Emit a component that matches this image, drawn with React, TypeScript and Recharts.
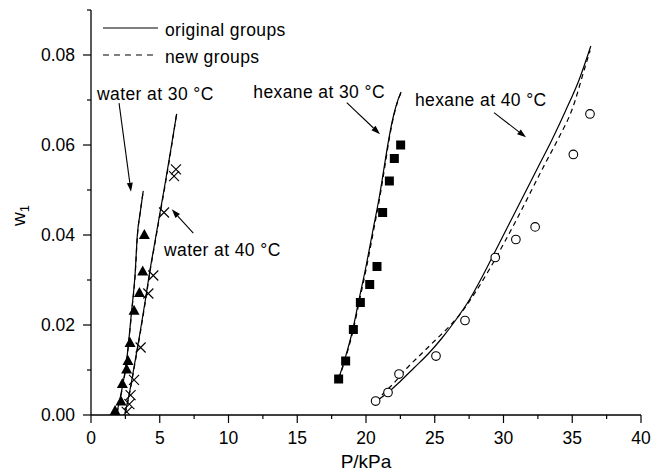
import {
  ComposedChart,
  Line,
  Scatter,
  XAxis,
  YAxis,
  ReferenceLine,
  ReferenceDot,
  Label,
} from 'recharts';

const FONT = '"Liberation Sans", Arial, Helvetica, sans-serif';

// experimental points (P in kPa, w1 mass fraction)
const water30P = [1.75, 2.18, 2.28, 2.59, 2.69, 2.84, 3.13, 3.52, 3.76, 3.88];
const water30W = [0.001, 0.0031, 0.007, 0.0102, 0.0121, 0.0161, 0.0233, 0.0272, 0.032, 0.0401];

const water40P = [2.6, 2.79, 2.88, 3.13, 3.61, 4.17, 4.53, 5.31, 6.04, 6.18];
const water40W = [0.0007, 0.0024, 0.0044, 0.0078, 0.015, 0.027, 0.031, 0.045, 0.0531, 0.0546];

const hexane30P = [18.01, 18.52, 19.08, 19.59, 20.27, 20.8, 21.21, 21.7, 22.06, 22.52];
const hexane30W = [0.008, 0.012, 0.019, 0.025, 0.029, 0.033, 0.045, 0.052, 0.057, 0.06];

const hexane40P = [20.7, 21.6, 22.4, 25.09, 27.2, 29.4, 30.9, 32.3, 35.08, 36.29];
const hexane40W = [0.0031, 0.005, 0.0091, 0.0131, 0.021, 0.035, 0.039, 0.0418, 0.0579, 0.0669];

// model curves, original groups (solid)
const water30OrigP = [1.87, 2.2, 2.59, 2.96, 3.2, 3.37, 3.58, 3.8];
const water30OrigW = [0.0004, 0.005, 0.0121, 0.0233, 0.031, 0.04, 0.045, 0.0498];

const water40OrigP = [2.47, 2.8, 3.15, 3.55, 3.95, 4.29, 4.65, 5.02, 5.31, 5.75, 6.23];
const water40OrigW = [0.0004, 0.005, 0.011, 0.018, 0.0255, 0.0322, 0.0385, 0.045, 0.05, 0.058, 0.0669];

const hexane30OrigP = [18.0, 18.5, 19.0, 19.5, 20.0, 20.5, 21.0, 21.38, 21.65, 22.0, 22.3, 22.55];
const hexane30OrigW = [0.008, 0.0128, 0.0185, 0.0258, 0.033, 0.041, 0.049, 0.0562, 0.0612, 0.0665, 0.0698, 0.0718];

const hexane40OrigP = [20.7, 21.6, 22.5, 23.5, 24.5, 25.5, 26.5, 27.5, 28.5, 29.5, 30.5, 31.5, 32.5, 33.5, 34.5, 35.5, 36.35];
const hexane40OrigW = [0.003, 0.005, 0.0075, 0.0105, 0.0135, 0.017, 0.021, 0.0255, 0.031, 0.037, 0.043, 0.049, 0.055, 0.061, 0.0675, 0.0745, 0.082];

// model curves, new groups (dashed)
const water30NewP = [1.9, 2.22, 2.6, 2.97, 3.21, 3.38, 3.59, 3.79];
const water30NewW = [0.0004, 0.005, 0.0121, 0.0233, 0.031, 0.04, 0.0452, 0.0496];

const water40NewP = [2.5, 2.82, 3.17, 3.57, 3.97, 4.31, 4.67, 5.04, 5.33, 5.77, 6.24];
const water40NewW = [0.0004, 0.005, 0.011, 0.018, 0.0255, 0.0322, 0.0385, 0.045, 0.05, 0.058, 0.0672];

const hexane30NewP = [18.02, 18.53, 19.04, 19.55, 20.05, 20.55, 21.04, 21.42, 21.68, 22.02, 22.32, 22.56];
const hexane30NewW = [0.008, 0.0128, 0.0185, 0.0258, 0.033, 0.041, 0.049, 0.0562, 0.0612, 0.0665, 0.0698, 0.0718];

const hexane40NewP = [20.7, 21.5, 22.0, 23.0, 24.0, 25.0, 26.0, 27.0, 28.0, 29.0, 30.0, 31.0, 32.0, 33.0, 34.0, 35.0, 35.9, 36.3];
const hexane40NewW = [0.003, 0.0055, 0.007, 0.0105, 0.0135, 0.0165, 0.0195, 0.023, 0.0275, 0.0325, 0.038, 0.0437, 0.0497, 0.0557, 0.0615, 0.068, 0.077, 0.081];

const xTicks = [0, 2.5, 5, 7.5, 10, 12.5, 15, 17.5, 20, 22.5, 25, 27.5, 30, 32.5, 35, 37.5, 40];
const yTicks = [0, 0.01, 0.02, 0.03, 0.04, 0.05, 0.06, 0.07, 0.08, 0.09];

const toPoints = (P: number[], w: number[]) => P.map((p, i) => ({ P: p, w: w[i] }));

const annotations = [
  { text: 'water at 30 °C', at: [0.44, 0.0714], from: [2.04, 0.0693], to: [2.91, 0.0496] },
  { text: 'water at 40 °C', at: [5.31, 0.0367], from: [7.44, 0.0404], to: [5.87, 0.0457] },
  { text: 'hexane at 30 °C', at: [11.8, 0.0718], from: [18.6, 0.0694], to: [21.02, 0.0624] },
  { text: 'hexane at 40 °C', at: [23.56, 0.07], from: [29.31, 0.0672], to: [31.64, 0.0617] },
];

const textStyle = { fontFamily: FONT, fontSize: 17.5, fill: '#000' };

const XTick = ({ x, y, payload }: any) => {
  const major = Math.abs(payload.value / 5 - Math.round(payload.value / 5)) < 1e-6;
  return (
    <g>
      <line x1={x} y1={y} x2={x} y2={y + (major ? 8 : 4)} stroke="#000" strokeWidth={1.2} />
      {major && (
        <text x={x} y={y + 23} textAnchor="middle" dominantBaseline="central" {...textStyle}>
          {payload.value}
        </text>
      )}
    </g>
  );
};

const YTick = ({ x, y, payload }: any) => {
  const major = Math.round(payload.value * 100) % 2 === 0;
  return (
    <g>
      <line x1={x} y1={y} x2={x - (major ? 8 : 4)} y2={y} stroke="#000" strokeWidth={1.2} />
      {major && (
        <text x={x - 16} y={y} textAnchor="end" dominantBaseline="central" {...textStyle}>
          {payload.value.toFixed(2)}
        </text>
      )}
    </g>
  );
};

const Triangle = ({ cx, cy }: any) => (
  <polygon points={`${cx},${cy - 5.5} ${cx - 5.5},${cy + 4.5} ${cx + 5.5},${cy + 4.5}`} fill="#000" />
);
const Cross = ({ cx, cy }: any) => (
  <path
    d={`M${cx - 5},${cy - 5}L${cx + 5},${cy + 5}M${cx - 5},${cy + 5}L${cx + 5},${cy - 5}`}
    stroke="#000"
    strokeWidth={1.1}
    fill="none"
  />
);
const Square = ({ cx, cy }: any) => <rect x={cx - 4.5} y={cy - 4.5} width={9} height={9} fill="#000" />;
const Ring = ({ cx, cy }: any) => <circle cx={cx} cy={cy} r={4.3} fill="#fff" stroke="#000" strokeWidth={1.1} />;

const Arrow = ({ x1, y1, x2, y2 }: any) => {
  const a = Math.atan2(y2 - y1, x2 - x1);
  const bx = x2 - 9 * Math.cos(a);
  const by = y2 - 9 * Math.sin(a);
  const px = -Math.sin(a) * 3;
  const py = Math.cos(a) * 3;
  return (
    <g>
      <line x1={x1} y1={y1} x2={bx} y2={by} stroke="#000" strokeWidth={1.1} />
      <polygon points={`${x2},${y2} ${bx + px},${by + py} ${bx - px},${by - py}`} fill="#000" />
    </g>
  );
};

const textAt = (text: string) => ({ cx, cy }: any) => (
  <text x={cx} y={cy} dominantBaseline="central" letterSpacing={0.4} {...textStyle}>
    {text}
  </text>
);

const curve = (key: string, P: number[], w: number[], dashed: boolean) => (
  <Line
    key={key}
    data={toPoints(P, w)}
    dataKey="w"
    type="monotone"
    stroke="#000"
    strokeWidth={1.2}
    strokeDasharray={dashed ? '5 4' : undefined}
    dot={false}
    activeDot={false}
    isAnimationActive={false}
  />
);

export default function App() {
  return (
    <div style={{ position: 'absolute', left: 0, top: 0, background: '#fff' }}>
      <ComposedChart width={653} height={475} margin={{ top: 10, right: 12, bottom: 0, left: 0 }}>
        <XAxis
          dataKey="P"
          type="number"
          domain={[0, 40]}
          ticks={xTicks}
          interval={0}
          tickSize={0}
          tickMargin={0}
          tickLine={false}
          tick={<XTick />}
          axisLine={{ stroke: '#000', strokeWidth: 1.3 }}
          height={60}
          allowDataOverflow
        >
          <Label
            content={({ viewBox }: any) => (
              <text
                x={viewBox.x + viewBox.width / 2}
                y={viewBox.y + 46}
                textAnchor="middle"
                dominantBaseline="central"
                fontFamily={FONT}
                fontSize={19}
              >
                P/kPa
              </text>
            )}
          />
        </XAxis>
        <YAxis
          dataKey="w"
          type="number"
          domain={[0, 0.09]}
          ticks={yTicks}
          interval={0}
          tickSize={0}
          tickMargin={0}
          tickLine={false}
          tick={<YTick />}
          axisLine={{ stroke: '#000', strokeWidth: 1.3 }}
          width={91}
          allowDataOverflow
        >
          <Label
            content={({ viewBox }: any) => {
              const lx = viewBox.x + 25;
              const ly = viewBox.y + viewBox.height / 2 + 3;
              return (
                <text
                  x={lx}
                  y={ly}
                  transform={`rotate(-90 ${lx} ${ly})`}
                  textAnchor="middle"
                  fontFamily={FONT}
                  fontSize={19}
                >
                  w
                  <tspan fontSize={13} dy={4}>
                    1
                  </tspan>
                </text>
              );
            }}
          />
        </YAxis>

        {curve('w30o', water30OrigP, water30OrigW, false)}
        {curve('w40o', water40OrigP, water40OrigW, false)}
        {curve('h30o', hexane30OrigP, hexane30OrigW, false)}
        {curve('h40o', hexane40OrigP, hexane40OrigW, false)}
        {curve('w30n', water30NewP, water30NewW, true)}
        {curve('w40n', water40NewP, water40NewW, true)}
        {curve('h30n', hexane30NewP, hexane30NewW, true)}
        {curve('h40n', hexane40NewP, hexane40NewW, true)}

        <Scatter data={toPoints(water30P, water30W)} dataKey="w" shape={<Triangle />} isAnimationActive={false} />
        <Scatter data={toPoints(water40P, water40W)} dataKey="w" shape={<Cross />} isAnimationActive={false} />
        <Scatter data={toPoints(hexane30P, hexane30W)} dataKey="w" shape={<Square />} isAnimationActive={false} />
        <Scatter data={toPoints(hexane40P, hexane40W)} dataKey="w" shape={<Ring />} isAnimationActive={false} />

        {annotations.map((a) => (
          <ReferenceLine
            key={'arr' + a.text}
            segment={[
              { x: a.from[0], y: a.from[1] },
              { x: a.to[0], y: a.to[1] },
            ]}
            shape={<Arrow />}
          />
        ))}
        {annotations.map((a) => (
          <ReferenceDot key={'txt' + a.text} x={a.at[0]} y={a.at[1]} r={0} shape={textAt(a.text)} />
        ))}

        {/* legend */}
        <ReferenceLine
          segment={[
            { x: 0.87, y: 0.086 },
            { x: 4.87, y: 0.086 },
          ]}
          stroke="#000"
          strokeWidth={1.2}
        />
        <ReferenceLine
          segment={[
            { x: 0.87, y: 0.08 },
            { x: 4.87, y: 0.08 },
          ]}
          stroke="#000"
          strokeWidth={1.2}
          strokeDasharray="6 5"
        />
        <ReferenceDot x={5.38} y={0.0856} r={0} shape={textAt('original groups')} />
        <ReferenceDot x={5.38} y={0.0796} r={0} shape={textAt('new groups')} />
      </ComposedChart>
    </div>
  );
}
